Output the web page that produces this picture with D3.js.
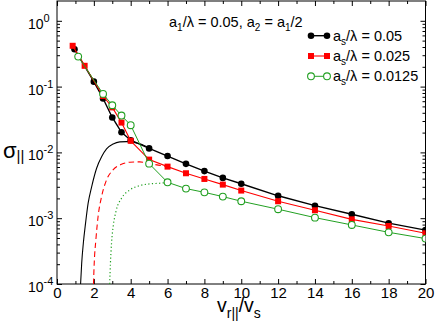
<!DOCTYPE html>
<html>
<head>
<meta charset="utf-8">
<script src="https://cdn.jsdelivr.net/npm/d3@7"></script>
<style>
body { margin: 0; background: #fff; }
svg { display: block; font-family: "Liberation Sans", Arial, Helvetica, sans-serif; }
</style>
</head>
<body>
<svg id="chart" width="436" height="332"></svg>
<script>
// simulated points, a_s/lambda = 0.05 / 0.025 / 0.0125
const xBlack = [0.95, 2, 2.5, 3, 3.5, 4, 5, 6, 7, 8, 9, 10, 12, 14, 16, 18, 20]
const yBlack = [0.37, 0.119, 0.066, 0.034, 0.0202, 0.0153, 0.0115, 0.0088, 0.0067, 0.0052, 0.0041, 0.00334, 0.00219, 0.00155, 0.00115, 0.00084, 0.00066]
const xRed = [0.85, 1.5, 2.5, 3, 3.5, 4, 5, 6, 7, 8, 9, 10, 12, 14, 16, 18, 20]
const yRed = [0.417, 0.207, 0.072, 0.0483, 0.0284, 0.015, 0.00777, 0.00608, 0.00482, 0.00395, 0.00324, 0.00263, 0.00181, 0.00132, 0.00096, 0.00076, 0.00059]
const xGreen = [1.15, 2.5, 3, 3.5, 4, 5, 6, 7, 8, 9, 10, 12, 14, 16, 18, 20]
const yGreen = [0.286, 0.0775, 0.0521, 0.0363, 0.0259, 0.00675, 0.00351, 0.00282, 0.00247, 0.00213, 0.00181, 0.00137, 0.00102, 0.00079, 0.00061, 0.00049]

// theory curves
const xCurveBlack = [1.28, 1.34, 1.43, 1.55, 1.69, 1.88, 2.15, 2.42, 2.69, 3.05, 3.41, 3.77, 4.12, 4.58, 5]
const yCurveBlack = [1e-4, 2.07e-4, 4.2e-4, 8.4e-4, 1.69e-3, 3.0e-3, 5.75e-3, 8.6e-3, 0.0113, 0.01346, 0.01445, 0.0146, 0.0143, 0.0133, 0.0117]
const xCurveRed = [1.98, 2.02, 2.11, 2.23, 2.42, 2.69, 3.04, 3.5, 3.95, 4.49, 4.94, 5.5, 6]
const yCurveRed = [1e-4, 2.07e-4, 4.7e-4, 1.06e-3, 2.13e-3, 3.82e-3, 5.42e-3, 6.61e-3, 7.1e-3, 7.17e-3, 6.85e-3, 6.4e-3, 6.08e-3]
const xCurveGreen = [2.86, 2.9, 2.96, 3.05, 3.22, 3.5, 3.95, 4.49, 5.03, 5.57, 6]
const yCurveGreen = [1e-4, 2.07e-4, 4.2e-4, 7.5e-4, 1.33e-3, 2.01e-3, 2.69e-3, 3.13e-3, 3.32e-3, 3.4e-3, 3.51e-3]

const xMajor = [0, 2, 4, 6, 8, 10, 12, 14, 16, 18, 20]
const xMinor = [1, 3, 5, 7, 9, 11, 13, 15, 17, 19]
const yMajor = [1e-4, 1e-3, 1e-2, 1e-1, 1]
const legendLabels = ["0.05", "0.025", "0.0125"]

const BLACK = "#000", RED = "#ff0000", GREEN = "#22a022"
const pLeft = 57, pRight = 425.5, pTop = 1, pBottom = 284

const svg = d3.select("#chart")
const x = d3.scaleLinear().domain([0, 20]).range([pLeft, pRight])
const y = d3.scaleLog().domain([1e-4, 2]).range([pBottom, pTop])

const yMinor = []
for (let e = -4; e <= 0; e++) {
	for (let k = 2; k <= 9; k++) {
		const v = k * Math.pow(10, e)
		if (v < 2) yMinor.push(v)
	}
}

svg.append("clipPath").attr("id", "clip")
	.append("rect").attr("x", pLeft).attr("y", pTop).attr("width", pRight - pLeft).attr("height", pBottom - pTop)

// axes, ticks pointing inward
function noDomain(g) { g.select(".domain").remove() }

svg.append("g").attr("transform", `translate(0,${pBottom})`)
	.call(d3.axisBottom(x).tickValues(xMajor).tickSize(-5).tickPadding(3.2).tickFormat(d3.format("d")))
	.call(noDomain)
	.call(g => g.selectAll("text").attr("font-size", 15))
	.call(g => g.attr("font-family", null).attr("font-size", null))
svg.append("g").attr("transform", `translate(0,${pBottom})`)
	.call(d3.axisBottom(x).tickValues(xMinor).tickSize(-3).tickFormat(""))
	.call(noDomain)
svg.append("g").attr("transform", `translate(0,${pTop})`)
	.call(d3.axisTop(x).tickValues(xMajor).tickSize(-5).tickFormat(""))
	.call(noDomain)
svg.append("g").attr("transform", `translate(0,${pTop})`)
	.call(d3.axisTop(x).tickValues(xMinor).tickSize(-3).tickFormat(""))
	.call(noDomain)

const yAxis = svg.append("g").attr("transform", `translate(${pLeft},0)`)
	.call(d3.axisLeft(y).tickValues(yMajor).tickSize(-5).tickFormat(""))
	.call(noDomain)
	.call(g => g.attr("font-family", null).attr("font-size", null))
svg.append("g").attr("transform", `translate(${pLeft},0)`)
	.call(d3.axisLeft(y).tickValues(yMinor).tickSize(-3).tickFormat(""))
	.call(noDomain)
svg.append("g").attr("transform", `translate(${pRight},0)`)
	.call(d3.axisRight(y).tickValues(yMajor).tickSize(-5).tickFormat(""))
	.call(noDomain)
svg.append("g").attr("transform", `translate(${pRight},0)`)
	.call(d3.axisRight(y).tickValues(yMinor).tickSize(-3).tickFormat(""))
	.call(noDomain)

// 10^n labels
yAxis.selectAll(".tick").each(function(d) {
	const t = d3.select(this).select("text")
		.attr("x", 28 - pLeft).attr("dy", null).attr("y", 7.5)
		.attr("text-anchor", "start").attr("font-size", 14)
	t.append("tspan").text("10")
	t.append("tspan").attr("dy", -7).attr("font-size", 11).text(Math.round(Math.log10(d)))
})

svg.append("rect").attr("x", pLeft).attr("y", pTop).attr("width", pRight - pLeft).attr("height", pBottom - pTop)
	.attr("fill", "none").attr("stroke", "#000").attr("stroke-width", 1)

const plot = svg.append("g").attr("clip-path", "url(#clip)")
const line = d3.line().x(d => x(d[0])).y(d => y(d[1]))
const smooth = d3.line().x(d => x(d[0])).y(d => y(d[1])).curve(d3.curveMonotoneX)

// theory curves
plot.append("path").datum(d3.zip(xCurveBlack, yCurveBlack)).attr("d", smooth)
	.attr("fill", "none").attr("stroke", BLACK).attr("stroke-width", 1.1)
plot.append("path").datum(d3.zip(xCurveRed, yCurveRed)).attr("d", smooth)
	.attr("fill", "none").attr("stroke", RED).attr("stroke-width", 1.1).attr("stroke-dasharray", "5.5,3.5")
plot.append("path").datum(d3.zip(xCurveGreen, yCurveGreen)).attr("d", smooth)
	.attr("fill", "none").attr("stroke", GREEN).attr("stroke-width", 1.2).attr("stroke-dasharray", "1.2,2.4")

// data lines
const series = [
	{ xs: xBlack, ys: yBlack, color: BLACK, width: 1.4, marker: "dot" },
	{ xs: xRed, ys: yRed, color: RED, width: 1.1, marker: "square" },
	{ xs: xGreen, ys: yGreen, color: GREEN, width: 1.0, marker: "ring" }
]

function drawMarker(g, type, color, cx, cy) {
	if (type === "dot") {
		g.append("circle").attr("cx", cx).attr("cy", cy).attr("r", 3.3).attr("fill", color)
	} else if (type === "square") {
		g.append("rect").attr("x", cx - 3).attr("y", cy - 3).attr("width", 6).attr("height", 6).attr("fill", color)
	} else {
		g.append("circle").attr("cx", cx).attr("cy", cy).attr("r", 3.4)
			.attr("fill", "#fff").attr("stroke", color).attr("stroke-width", 1.1)
	}
}

series.forEach(s => {
	const pts = d3.zip(s.xs, s.ys)
	plot.append("path").datum(pts).attr("d", line)
		.attr("fill", "none").attr("stroke", s.color).attr("stroke-width", s.width)
	const mg = plot.append("g")
	pts.forEach(p => drawMarker(mg, s.marker, s.color, x(p[0]), y(p[1])))
})

// legend
const legend = svg.append("g")
series.forEach((s, i) => {
	const ly = 35.7 + i * 20.3
	legend.append("line").attr("x1", 311).attr("x2", 327).attr("y1", ly).attr("y2", ly)
		.attr("stroke", s.color).attr("stroke-width", s.width)
	drawMarker(legend, s.marker, s.color, 311, ly)
	drawMarker(legend, s.marker, s.color, 327, ly)
	const t = legend.append("text").attr("x", 333).attr("y", ly + 5).attr("font-size", 14.5)
	t.append("tspan").text("a")
	t.append("tspan").attr("dy", 4).attr("font-size", 10).text("s")
	t.append("tspan").attr("dy", -4).text("/\u03bb = " + legendLabels[i])
})

// annotation
const ann = svg.append("text").attr("x", 169).attr("y", 27).attr("font-size", 14.5)
ann.append("tspan").text("a")
ann.append("tspan").attr("dy", 4).attr("font-size", 10).text("1")
ann.append("tspan").attr("dy", -4).text("/\u03bb = 0.05, a")
ann.append("tspan").attr("dy", 4).attr("font-size", 10).text("2")
ann.append("tspan").attr("dy", -4).text(" = a")
ann.append("tspan").attr("dy", 4).attr("font-size", 10).text("1")
ann.append("tspan").attr("dy", -4).text("/2")

// axis titles
const xt = svg.append("text").attr("x", 217).attr("y", 312).attr("font-size", 19.5)
xt.append("tspan").text("v")
xt.append("tspan").attr("dy", 6).attr("font-size", 14).text("r||")
xt.append("tspan").attr("dy", -6).text("/v")
xt.append("tspan").attr("dy", 6).attr("font-size", 14).text("s")

const yt = svg.append("text").attr("x", 3).attr("y", 158).attr("font-size", 22)
yt.append("tspan").text("\u03c3")
yt.append("tspan").attr("dy", 3).attr("font-size", 15).text("||")
</script>
</body>
</html>
